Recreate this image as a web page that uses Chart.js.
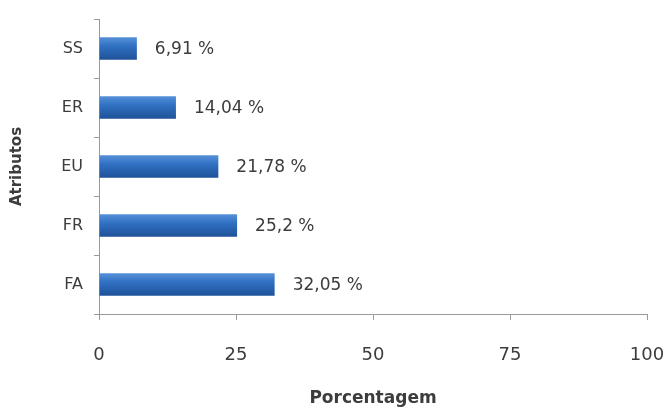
<!DOCTYPE html>
<html>
<head>
<meta charset="utf-8">
<script src="https://cdn.jsdelivr.net/npm/chart.js@4/dist/chart.umd.min.js"></script>
<style>
html,body{margin:0;padding:0;background:#fff;}
#wrap{width:665px;height:410px;}
</style>
</head>
<body>
<div id="wrap"><canvas id="c" width="665" height="410"></canvas></div>
<script>
const categories = ["SS", "ER", "EU", "FR", "FA"];
const values = [6.91, 14.04, 21.78, 25.2, 32.05];
const xTicks = [0, 25, 50, 75, 100];
const xTitle = "Porcentagem";
const yTitle = "Atributos";

const FONT = "'DejaVu Sans', 'Open Sans', sans-serif";
const TXT = "#3c3c3c";

const valueLabels = {
  id: "valueLabels",
  afterDatasetsDraw(chart) {
    const ctx = chart.ctx;
    const meta = chart.getDatasetMeta(0);
    ctx.save();
    ctx.font = "17px " + FONT;
    ctx.fillStyle = TXT;
    ctx.textAlign = "left";
    ctx.textBaseline = "middle";
    meta.data.forEach((el, i) => {
      const t = String(values[i]).replace(".", ",") + " %";
      ctx.fillText(t, el.x + 18, el.y + 1);
    });
    ctx.restore();
  }
};

function barFill(c) {
  const chart = c.chart;
  const y = chart.scales && chart.scales.y;
  if (!y || !chart.chartArea || c.dataIndex === undefined) return "#2c64b0";
  const cy = y.getPixelForValue(c.dataIndex);
  const g = chart.ctx.createLinearGradient(0, cy - 11, 0, cy + 11);
  g.addColorStop(0, "#5590d8");
  g.addColorStop(0.4, "#3070c2");
  g.addColorStop(1, "#1f5299");
  return g;
}

new Chart(document.getElementById("c"), {
  type: "bar",
  data: {
    labels: categories,
    datasets: [{
      data: values,
      backgroundColor: barFill,
      borderWidth: 0,
      categoryPercentage: 1,
      barPercentage: 0.38
    }]
  },
  plugins: [valueLabels],
  options: {
    indexAxis: "y",
    responsive: false,
    animation: false,
    devicePixelRatio: 1,
    layout: { padding: { left: 0, right: 18, top: 19, bottom: 0 } },
    plugins: { legend: { display: false }, tooltip: { enabled: false } },
    scales: {
      x: {
        min: 0, max: 100,
        afterBuildTicks(s) { s.ticks = xTicks.map(v => ({ value: v })); },
        afterFit(s) { s.height = 96; s.paddingLeft = 0; s.paddingRight = 0; },
        grid: { drawOnChartArea: false, drawTicks: true, tickLength: 6, color: "#9a9a9a" },
        border: { display: true, color: "#9a9a9a", width: 1 },
        ticks: { padding: 25, color: TXT, font: { family: FONT, size: 18 } },
        title: { display: true, text: xTitle, color: TXT, font: { family: FONT, size: 17, weight: "bold" }, padding: { top: 0, bottom: 1 } }
      },
      y: {
        afterFit(s) { s.width = 99; s.paddingTop = 0; s.paddingBottom = 0; },
        grid: { drawOnChartArea: false, drawTicks: true, tickLength: 5, color: "#9a9a9a", offset: true },
        border: { display: true, color: "#9a9a9a", width: 1 },
        ticks: { padding: 11, color: TXT, font: { family: FONT, size: 16 } },
        title: { display: true, text: yTitle, color: TXT, font: { family: FONT, size: 15, weight: "bold" }, padding: { top: 8, bottom: 0 } }
      }
    }
  }
});
</script>
</body>
</html>
